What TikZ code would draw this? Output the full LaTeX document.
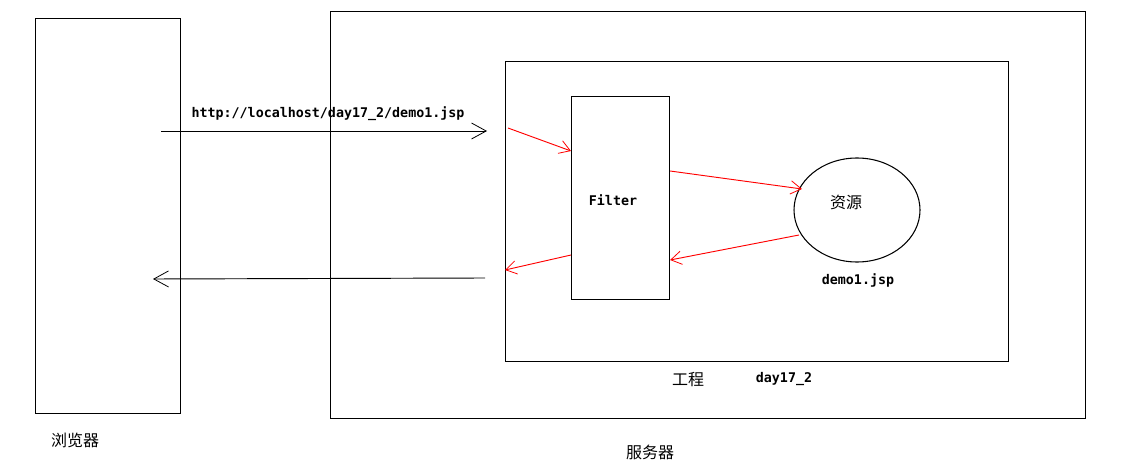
\documentclass[tikz,border=0pt]{standalone}
\usepackage{fontspec}
\newfontfamily\cjk{Noto Sans CJK SC}
\newfontfamily\monob{DejaVu Sans Mono}[FakeBold=0]
\usetikzlibrary{arrows.meta,shapes.geometric}
\begin{document}
\begin{tikzpicture}[x=0.75pt,y=-0.75pt,
  box/.style={draw,line width=0.8pt,inner sep=0pt},
  blk/.style={line width=0.7pt,-{Straight Barb[length=11pt,width=12pt,line width=0.6pt]}},
  red/.style={draw=red,line width=0.7pt,-{Straight Barb[length=8pt,width=10pt,line width=0.6pt]}},
  lab/.style={font=\monob\bfseries\fontsize{10}{12}\selectfont,inner sep=0pt},
  zh/.style={font=\cjk\fontsize{12}{14}\selectfont,inner sep=0pt}]
\useasboundingbox (0,0) rectangle (1126,466);
\fill[white] (0,0) rectangle (1126,466);
% boxes
\node[box,minimum width=145*0.75pt,minimum height=395*0.75pt,anchor=north west] (browser) at (35,18) {};
\node[box,minimum width=755*0.75pt,minimum height=407*0.75pt,anchor=north west] (server) at (330,11) {};
\node[box,minimum width=503*0.75pt,minimum height=300*0.75pt,anchor=north west] (project) at (505,61) {};
\node[box,minimum width=98*0.75pt,minimum height=203*0.75pt,anchor=north west] (filter) at (571,96) {};
\node[box,ellipse,minimum width=126*0.75pt,minimum height=104*0.75pt] (res) at (857,210) {};
% texts
\node[lab] (url) at (328,114) {http://localhost/day17\_2/demo1.jsp};
\node[lab] (ftxt) at (613,200) {Filter};
\node[zh] (rtxt) at (846,202) {资源};
\node[lab] (demo) at (858,280) {demo1.jsp};
\node[zh] (gc) at (688,380) {工程};
\node[lab] (day) at (784,379) {day17\_2};
\node[zh] (llq) at (75,440) {浏览器};
\node[zh] (fwq) at (650,452) {服务器};
% connectors
\coordinate (a1s) at (161,131);
\coordinate (a1e) at (487,131);
\draw[blk] (a1s) -- (a1e);
\coordinate (a2s) at (485,278);
\coordinate (a2e) at (153,279);
\draw[blk] (a2s) -- (a2e);
\coordinate (r1s) at (508,128);
\draw[red] (r1s) -- (filter.west |- 0,151);
\draw[red] (filter.east |- 0,171) -- (802,189);
\draw[red] (799,235) -- (filter.east |- 0,260);
\coordinate (r4e) at (505,270);
\draw[red] (filter.west |- 0,255) -- (r4e);
\end{tikzpicture}
\end{document}
